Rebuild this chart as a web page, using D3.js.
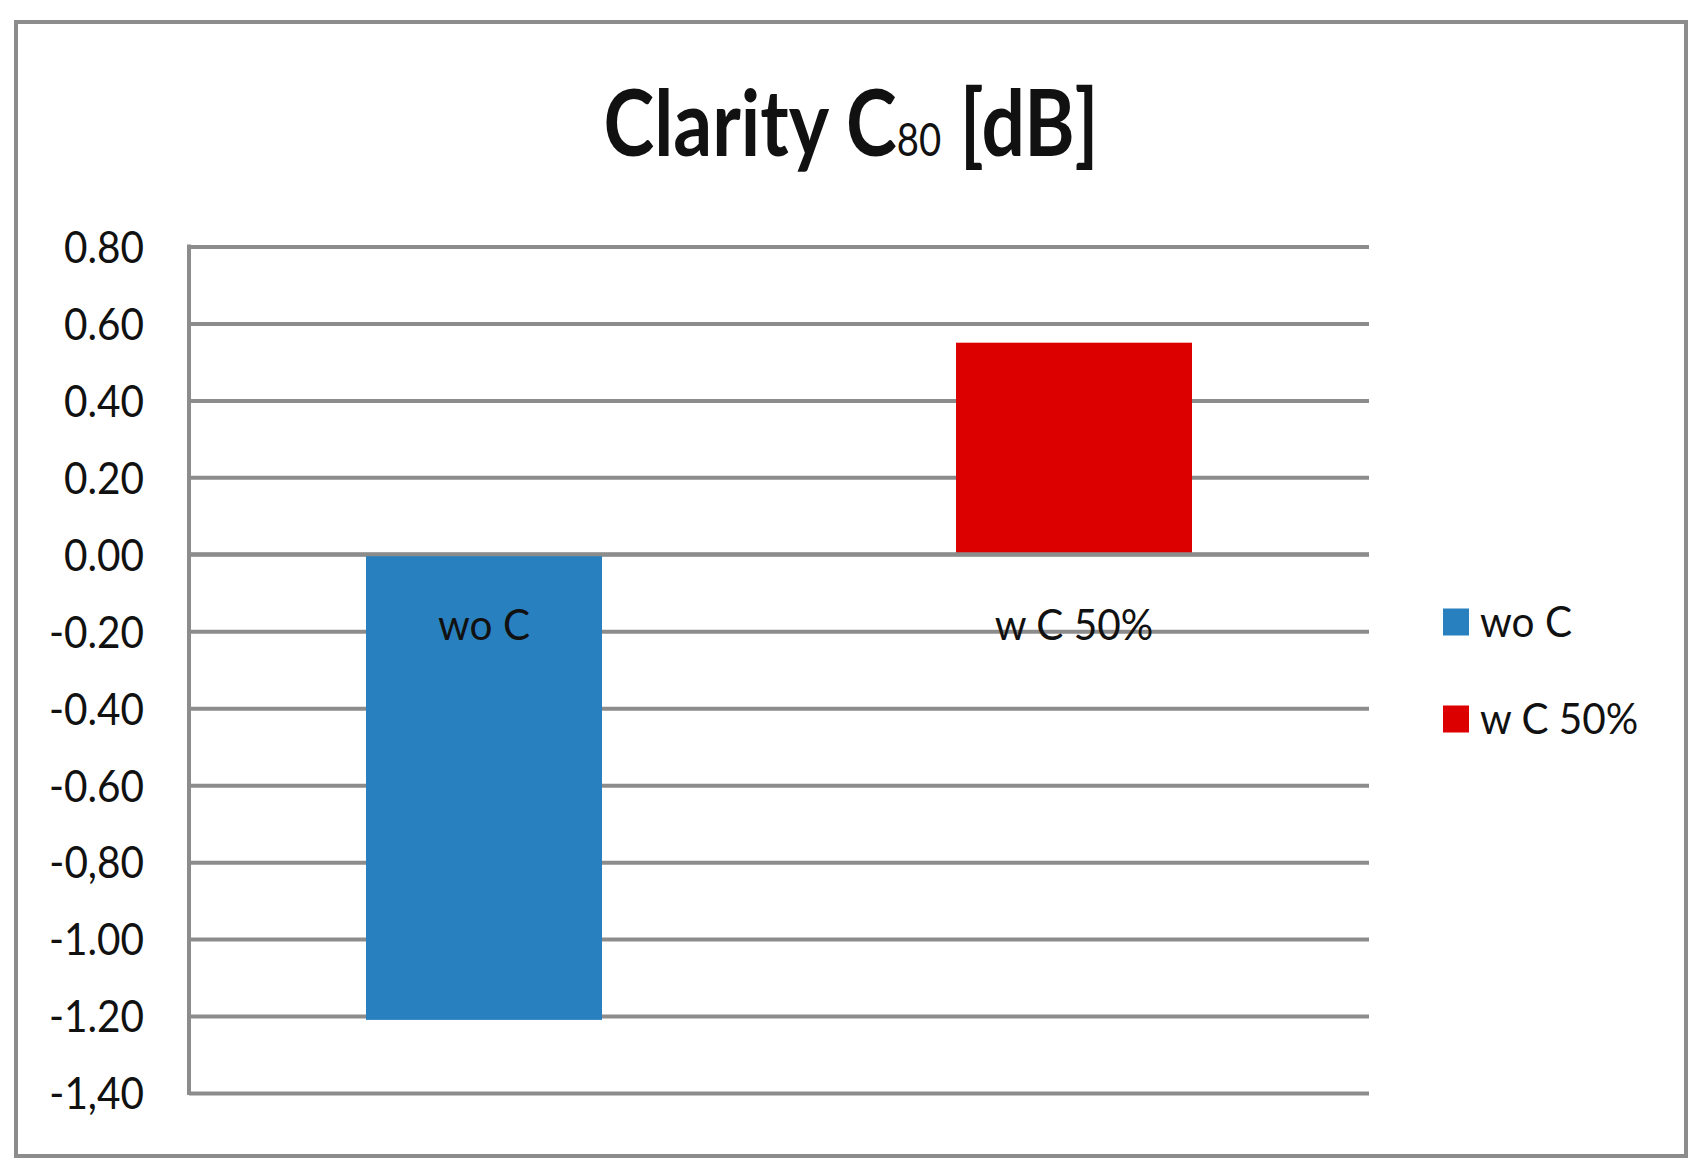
<!DOCTYPE html>
<html lang="en">
<head>
    <meta charset="UTF-8">
    <title>Clarity C80 [dB]</title>
    <script src="https://d3js.org/d3.v7.min.js"></script>
    <style>
        body { margin: 0; background: #fff; }
        text { font-family: Lato, "Open Sans", sans-serif; fill: #111; }
    </style>
</head>
<body>
    <div id="chart"></div>
    <script>
        // chart data
        const categories = ["wo C", "w C 50%"];
        const values = [-1.21, 0.55];
        const barColors = ["#2980BF", "#DD0000"];
        const tickValues = [0.8, 0.6, 0.4, 0.2, 0, -0.2, -0.4, -0.6, -0.8, -1.0, -1.2, -1.4];
        const tickLabels = ["0.80", "0.60", "0.40", "0.20", "0.00", "-0.20", "-0.40", "-0.60", "-0,80", "-1.00", "-1.20", "-1,40"];

        const width = 1700, height = 1170;
        const plot = { left: 189, right: 1369, top: 246.5, bottom: 1093 };
        const gridColor = "#8c8c8c";

        const svg = d3.select("#chart").append("svg")
            .attr("width", width)
            .attr("height", height);

        // outer frame
        svg.append("rect")
            .attr("x", 16).attr("y", 22)
            .attr("width", 1670).attr("height", 1134)
            .attr("fill", "#fff")
            .attr("stroke", gridColor)
            .attr("stroke-width", 4);

        const x = d3.scaleBand()
            .domain(categories)
            .range([plot.left, plot.right])
            .paddingInner(0.6)
            .paddingOuter(0.3);

        const y = d3.scaleLinear()
            .domain([-1.4, 0.8])
            .range([plot.bottom, plot.top]);

        // gridlines
        const grid = svg.append("g")
            .attr("transform", `translate(${plot.left},0)`)
            .call(d3.axisLeft(y).tickValues(tickValues).tickSize(-(plot.right - plot.left)).tickFormat(""));
        grid.select(".domain").remove();
        grid.selectAll("line").attr("stroke", gridColor).attr("stroke-width", 4);

        // vertical axis line
        svg.append("line")
            .attr("x1", plot.left).attr("x2", plot.left)
            .attr("y1", y(0.8) - 2).attr("y2", y(-1.4) + 2)
            .attr("stroke", gridColor)
            .attr("stroke-width", 4);

        // tick labels, squeezed a bit to look like the original Calibri
        const ticks = svg.append("g")
            .attr("transform", `translate(${plot.left},0)`)
            .call(d3.axisLeft(y).tickValues(tickValues).tickSize(0).tickPadding(0)
                .tickFormat((d, i) => tickLabels[i]));
        ticks.select(".domain").remove();
        ticks.selectAll("text")
            .attr("font-size", "44px")
            .attr("fill", "#111")
            .attr("font-family", "Lato, 'Open Sans', sans-serif")
            .attr("dy", "0.36em");
        const probe = ticks.select("text").node().getComputedTextLength();
        const tickScale = 80 / probe;
        ticks.selectAll("text")
            .attr("x", -45 / tickScale)
            .attr("transform", `scale(${tickScale},1)`);

        // bars
        svg.selectAll("rect.bar")
            .data(values)
            .join("rect")
            .attr("class", "bar")
            .attr("x", (d, i) => x(categories[i]))
            .attr("width", x.bandwidth())
            .attr("y", d => Math.min(y(d), y(0)))
            .attr("height", d => Math.abs(y(d) - y(0)))
            .attr("fill", (d, i) => barColors[i]);

        // zero line on top of the bars
        svg.append("line")
            .attr("x1", plot.left).attr("x2", plot.right)
            .attr("y1", y(0)).attr("y2", y(0))
            .attr("stroke", gridColor)
            .attr("stroke-width", 4);

        // category labels sit just below the zero line
        const catLabels = svg.selectAll("text.cat")
            .data(categories)
            .join("text")
            .attr("class", "cat")
            .attr("font-size", "42px")
            .attr("text-anchor", "middle")
            .text(d => d);
        const labelScale = 92 / catLabels.node().getComputedTextLength();
        catLabels.attr("transform", d =>
            `translate(${x(d) + x.bandwidth() / 2},${y(0) + 86}) scale(${labelScale},1)`);

        // legend
        const legend = svg.append("g");
        const legendRows = [622, 719];
        categories.forEach((c, i) => {
            legend.append("rect")
                .attr("x", 1443).attr("y", legendRows[i] - 13.5)
                .attr("width", 26).attr("height", 27)
                .attr("fill", barColors[i]);
            legend.append("text")
                .attr("font-size", "42px")
                .attr("transform", `translate(1480,${legendRows[i] + 15}) scale(${labelScale},1)`)
                .text(c);
        });

        // title with subscript
        const title = svg.append("text")
            .attr("font-size", "92px")
            .attr("font-weight", "bold")
            .attr("fill", "#000")
            .attr("text-anchor", "middle");
        title.append("tspan").text("Clarity C");
        title.append("tspan").attr("font-size", "46px").attr("font-weight", "normal").text("80");
        title.append("tspan").text(" [dB]");
        const titleScale = 495 / title.node().getComputedTextLength();
        title.attr("transform", `translate(851,156) scale(${titleScale},1)`);
    </script>
</body>
</html>
